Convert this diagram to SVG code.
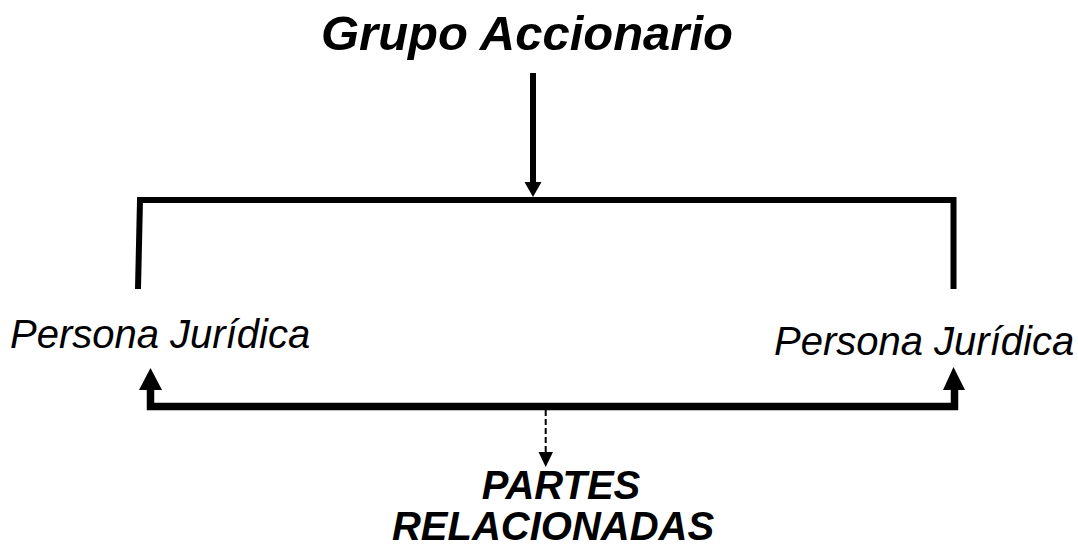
<svg xmlns="http://www.w3.org/2000/svg" width="1078" height="549" viewBox="0 0 1078 549">
<style>
.t{font-family:"Liberation Sans",Arial,sans-serif;font-style:italic;fill:#000}
.b{font-weight:bold}
.ln{fill:none;stroke:#000;stroke-linejoin:miter;stroke-linecap:butt}
.hd{fill:#000;stroke:none}
</style>
<rect width="1078" height="549" fill="#fff"/>
<g id="grupo"><text class="t b" x="527" y="50" font-size="49" text-anchor="middle">Grupo Accionario</text></g>
<g id="pj-left"><text class="t" x="10" y="348" font-size="40">Persona Jurídica</text></g>
<g id="pj-right"><text class="t" x="774" y="355" font-size="40">Persona Jurídica</text></g>
<g id="partes"><text class="t b" x="561" y="499" font-size="40" text-anchor="middle">PARTES</text><text class="t b" x="553" y="540" font-size="40" text-anchor="middle">RELACIONADAS</text></g>
<g id="connectors">
<line class="ln" x1="533" y1="73" x2="533" y2="184" stroke-width="6"/>
<polygon class="hd" points="524.5,182 541.5,182 533,197"/>
<polyline class="ln" points="138,289 140,200 953.5,200 953.5,289" stroke-width="6"/>
<polyline class="ln" points="150.5,388 150.5,406.5 954.5,406.5 954.5,388" stroke-width="7.5"/>
<polygon class="hd" points="139,390 162,390 150.5,368"/>
<polygon class="hd" points="943,390 965,390 953.5,367"/>
<line class="ln" x1="545.7" y1="410" x2="545.7" y2="453" stroke-width="2" stroke-dasharray="6 3"/>
<polygon class="hd" points="538.5,452 553,452 545.7,467"/>
</g>
</svg>
